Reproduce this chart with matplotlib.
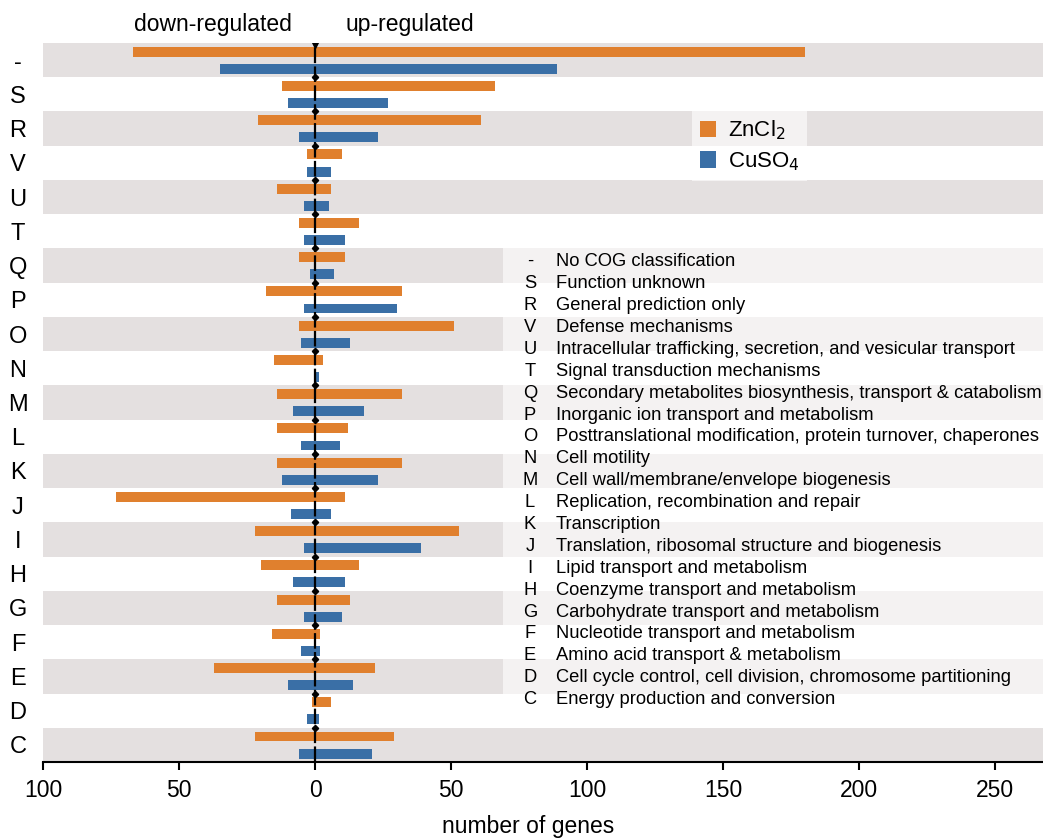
import numpy as np
import matplotlib
matplotlib.use("Agg")
import matplotlib.pyplot as plt
from matplotlib.patches import Patch, Rectangle
import matplotlib.transforms as mtransforms

plt.rcParams['font.family'] = ['Liberation Sans', 'DejaVu Sans']

# COG categories, top to bottom
categories = ["-", "S", "R", "V", "U", "T", "Q", "P", "O", "N", "M",
              "L", "K", "J", "I", "H", "G", "F", "E", "D", "C"]
descriptions = [
    "No COG classification",
    "Function unknown",
    "General prediction only",
    "Defense mechanisms",
    "Intracellular trafficking, secretion, and vesicular transport",
    "Signal transduction mechanisms",
    "Secondary metabolites biosynthesis, transport & catabolism",
    "Inorganic ion transport and metabolism",
    "Posttranslational modification, protein turnover, chaperones",
    "Cell motility",
    "Cell wall/membrane/envelope biogenesis",
    "Replication, recombination and repair",
    "Transcription",
    "Translation, ribosomal structure and biogenesis",
    "Lipid transport and metabolism",
    "Coenzyme transport and metabolism",
    "Carbohydrate transport and metabolism",
    "Nucleotide transport and metabolism",
    "Amino acid transport & metabolism",
    "Cell cycle control, cell division, chromosome partitioning",
    "Energy production and conversion",
]

# number of genes (down-regulated / up-regulated)
zn_down = [67, 12, 21, 3, 14, 6, 6, 18, 6, 15, 14, 14, 14, 73, 22, 20, 14, 16, 37, 1, 22]
zn_up   = [180, 66, 61, 10, 6, 16, 11, 32, 51, 3, 32, 12, 32, 11, 53, 16, 13, 2, 22, 6, 29]
cu_down = [35, 10, 6, 3, 4, 4, 2, 4, 5, 0, 8, 5, 12, 9, 4, 8, 4, 5, 10, 3, 6]
cu_up   = [89, 27, 23, 6, 5, 11, 7, 30, 13, 1.5, 18, 9, 23, 6, 39, 11, 10, 2, 14, 1.5, 21]

x_ticks = [-100, -50, 0, 50, 100, 150, 200, 250]

orange = "#e0802e"
blue = "#3a6fa6"
band = "#e4e0e0"

W, H = 1043, 840
fig = plt.figure(figsize=(W / 100, H / 100), dpi=100)
ax = fig.add_axes([43 / W, (H - 762) / H, 1 - 43 / W, (762 - 43) / H])

n = len(categories)
y = np.arange(n)

# alternating background bands
for i in range(0, n, 2):
    ax.axhspan(i - 0.5, i + 0.5, color=band, lw=0, zorder=0)

zd = np.array(zn_down)
zu = np.array(zn_up)
cd = np.array(cu_down)
cu = np.array(cu_up)

h = 0.29
ax.barh(y - 0.245, zd + zu, left=-zd, height=h, color=orange, edgecolor="none", zorder=3)
ax.barh(y + 0.255, cd + cu, left=-cd, height=h, color=blue, edgecolor="none", zorder=3)

# zero line
ax.axvline(0, color="black", lw=1.6, ls=(0, (7, 1.5)), zorder=4)
ax.plot(np.zeros(n - 1), y[:-1] + 0.5, ls="none", marker="D", ms=3.2, color="black", zorder=5)
ax.plot([0], [-0.45], ls="none", marker="v", ms=4, color="black", zorder=5)

ax.set_xlim(-100, 267.6)
ax.set_ylim(n - 0.5, -0.5)

ax.set_xticks(x_ticks)
ax.set_xticklabels([str(abs(t)) for t in x_ticks], fontsize=16.5)
ax.tick_params(axis="x", length=6, width=1.5, pad=6)
ax.set_yticks(y)
ax.set_yticklabels(categories, fontsize=17, ha="center")
ax.tick_params(axis="y", length=0, pad=18)

for s in ["top", "right", "left"]:
    ax.spines[s].set_visible(False)
ax.spines["bottom"].set_linewidth(1.5)

# light overlay behind the COG description list
trans = mtransforms.blended_transform_factory(ax.transAxes, ax.transData)
ax.add_patch(Rectangle((0.46, 5.5), 0.54, 13, transform=trans,
                       facecolor="white", alpha=0.6, edgecolor="none", zorder=1))

# treatment legend
handles = [Patch(facecolor=orange), Patch(facecolor=blue)]
leg = ax.legend(handles, ["ZnCl$_2$", "CuSO$_4$"], loc="upper left",
                bbox_to_anchor=((692 - 43) / 1000, (762 - 111) / 719),
                fontsize=16, frameon=True, fancybox=False, borderpad=0.35,
                handlelength=0.75, handleheight=0.75, handletextpad=0.5,
                labelspacing=0.35, borderaxespad=0)
leg.get_frame().set_facecolor("white")
leg.get_frame().set_alpha(0.6)
leg.get_frame().set_edgecolor("none")

# COG description list
for i, (c, d) in enumerate(zip(categories, descriptions)):
    yy = 1 - (261.7 + i * 21.9) / H
    fig.text(530 / W, yy, c, fontsize=13.2, ha="center", va="center")
    fig.text(556 / W, yy, d, fontsize=13.2, ha="left", va="center")

fig.text(213 / W, 1 - 24 / H, "down-regulated", fontsize=16.5, ha="center", va="center")
fig.text(410 / W, 1 - 24 / H, "up-regulated", fontsize=16.5, ha="center", va="center")
fig.text(528 / W, 1 - 826 / H, "number of genes", fontsize=16.5, ha="center", va="center")

fig.savefig("out.png", dpi=100)
